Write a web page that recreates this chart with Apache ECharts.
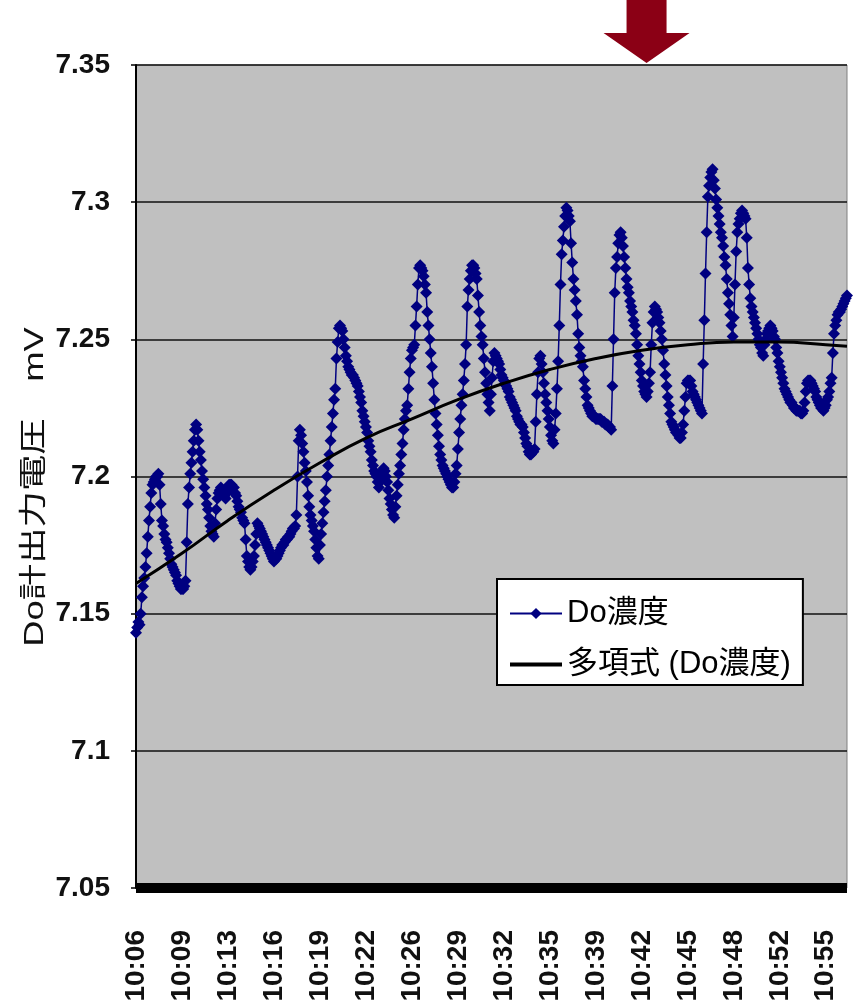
<!DOCTYPE html>
<html>
<head>
<meta charset="utf-8">
<script src="https://cdn.jsdelivr.net/npm/echarts@6/dist/echarts.min.js"></script>
<style>
  html, body { margin: 0; padding: 0; background: #fff; }
  #chart { width: 859px; height: 1008px; }
</style>
</head>
<body>
<div id="chart"></div>
<script>
// sampling: one reading every 5 s starting 10:06:30
const startTime = '10:06:30';
const stepSeconds = 5;

// Do濃度 readings (mV), one row per 39 samples
const doValues = [
  7.143, 7.145, 7.147, 7.146, 7.150, 7.156, 7.160, 7.163, 7.167, 7.172, 7.178, 7.184, 7.189, 7.194, 7.197, 7.198, 7.199, 7.200, 7.200, 7.201, 7.197, 7.190, 7.184, 7.182, 7.179, 7.177, 7.176, 7.174, 7.172, 7.170, 7.168, 7.167, 7.166, 7.165, 7.164, 7.162, 7.161, 7.160, 7.159,
  7.159, 7.159, 7.160, 7.162, 7.176, 7.190, 7.196, 7.201, 7.205, 7.209, 7.213, 7.217, 7.219, 7.217, 7.213, 7.209, 7.206, 7.202, 7.199, 7.196, 7.193, 7.190, 7.188, 7.185, 7.182, 7.180, 7.179, 7.178, 7.183, 7.188, 7.192, 7.194, 7.195, 7.196, 7.195, 7.194, 7.193, 7.192, 7.194,
  7.196, 7.197, 7.197, 7.197, 7.196, 7.196, 7.194, 7.193, 7.191, 7.189, 7.188, 7.187, 7.185, 7.184, 7.183, 7.177, 7.171, 7.169, 7.167, 7.166, 7.167, 7.169, 7.171, 7.175, 7.179, 7.183, 7.182, 7.181, 7.180, 7.179, 7.178, 7.177, 7.176, 7.175, 7.174, 7.173, 7.172, 7.171, 7.170,
  7.169, 7.170, 7.170, 7.171, 7.172, 7.173, 7.174, 7.175, 7.175, 7.176, 7.177, 7.177, 7.178, 7.178, 7.179, 7.180, 7.181, 7.181, 7.182, 7.186, 7.200, 7.213, 7.217, 7.215, 7.212, 7.209, 7.205, 7.202, 7.198, 7.193, 7.189, 7.186, 7.184, 7.182, 7.180, 7.177, 7.174, 7.171, 7.170,
  7.175, 7.179, 7.183, 7.187, 7.191, 7.195, 7.200, 7.204, 7.208, 7.213, 7.218, 7.223, 7.228, 7.232, 7.243, 7.249, 7.254, 7.255, 7.254, 7.253, 7.250, 7.247, 7.244, 7.242, 7.240, 7.239, 7.238, 7.237, 7.237, 7.236, 7.235, 7.234, 7.233, 7.231, 7.229, 7.227, 7.224, 7.222, 7.220,
  7.218, 7.216, 7.213, 7.211, 7.209, 7.206, 7.204, 7.202, 7.201, 7.200, 7.198, 7.196, 7.198, 7.200, 7.202, 7.203, 7.202, 7.200, 7.198, 7.195, 7.192, 7.190, 7.188, 7.186, 7.185, 7.189, 7.193, 7.197, 7.201, 7.204, 7.208, 7.212, 7.217, 7.221, 7.224, 7.226, 7.232, 7.238, 7.243,
  7.246, 7.247, 7.248, 7.255, 7.262, 7.270, 7.276, 7.277, 7.276, 7.275, 7.273, 7.270, 7.267, 7.260, 7.255, 7.250, 7.245, 7.240, 7.234, 7.228, 7.223, 7.219, 7.215, 7.211, 7.208, 7.206, 7.204, 7.203, 7.202, 7.201, 7.200, 7.199, 7.198, 7.197, 7.196, 7.196, 7.198, 7.201, 7.204,
  7.210, 7.216, 7.221, 7.226, 7.230, 7.235, 7.241, 7.248, 7.262, 7.268, 7.272, 7.275, 7.277, 7.277, 7.276, 7.274, 7.272, 7.266, 7.260, 7.255, 7.251, 7.248, 7.243, 7.238, 7.234, 7.230, 7.227, 7.224, 7.230, 7.236, 7.242, 7.245, 7.244, 7.243, 7.242, 7.241, 7.239, 7.237, 7.236,
  7.235, 7.234, 7.233, 7.232, 7.231, 7.229, 7.228, 7.227, 7.226, 7.225, 7.224, 7.222, 7.221, 7.220, 7.219, 7.219, 7.218, 7.216, 7.214, 7.212, 7.211, 7.209, 7.208, 7.208, 7.209, 7.209, 7.210, 7.220, 7.230, 7.238, 7.243, 7.244, 7.241, 7.238, 7.234, 7.230, 7.227, 7.224, 7.221,
  7.218, 7.215, 7.213, 7.212, 7.217, 7.223, 7.232, 7.242, 7.255, 7.270, 7.281, 7.286, 7.291, 7.295, 7.298, 7.297, 7.295, 7.293, 7.285, 7.278, 7.272, 7.268, 7.264, 7.259, 7.252, 7.247, 7.244, 7.242, 7.240, 7.235, 7.232, 7.229, 7.226, 7.225, 7.224, 7.223, 7.222, 7.222, 7.222,
  7.221, 7.221, 7.221, 7.221, 7.221, 7.220, 7.220, 7.220, 7.219, 7.219, 7.219, 7.218, 7.218, 7.217, 7.233, 7.250, 7.267, 7.276, 7.280, 7.285, 7.288, 7.289, 7.287, 7.284, 7.280, 7.276, 7.272, 7.269, 7.267, 7.264, 7.262, 7.260, 7.257, 7.255, 7.252, 7.248, 7.244, 7.241, 7.238,
  7.235, 7.233, 7.231, 7.230, 7.229, 7.231, 7.234, 7.238, 7.248, 7.256, 7.260, 7.262, 7.261, 7.260, 7.258, 7.256, 7.253, 7.250, 7.246, 7.241, 7.237, 7.233, 7.229, 7.226, 7.223, 7.220, 7.219, 7.218, 7.217, 7.216, 7.216, 7.215, 7.214, 7.214, 7.216, 7.219, 7.224, 7.229, 7.234,
  7.235, 7.235, 7.235, 7.233, 7.231, 7.230, 7.229, 7.228, 7.227, 7.226, 7.225, 7.224, 7.223, 7.241, 7.257, 7.274, 7.289, 7.302, 7.306, 7.309, 7.311, 7.312, 7.308, 7.305, 7.301, 7.298, 7.295, 7.292, 7.289, 7.287, 7.284, 7.280, 7.277, 7.272, 7.267, 7.263, 7.259, 7.255, 7.251,
  7.258, 7.270, 7.282, 7.289, 7.292, 7.294, 7.296, 7.297, 7.296, 7.295, 7.294, 7.287, 7.276, 7.270, 7.265, 7.262, 7.260, 7.258, 7.256, 7.254, 7.252, 7.250, 7.248, 7.247, 7.245, 7.244, 7.248, 7.250, 7.252, 7.253, 7.254, 7.255, 7.254, 7.253, 7.251, 7.250, 7.247, 7.245, 7.242,
  7.240, 7.238, 7.236, 7.234, 7.232, 7.231, 7.230, 7.229, 7.228, 7.227, 7.227, 7.226, 7.225, 7.225, 7.224, 7.224, 7.224, 7.224, 7.223, 7.223, 7.224, 7.227, 7.231, 7.234, 7.235, 7.235, 7.235, 7.234, 7.233, 7.232, 7.231, 7.229, 7.228, 7.227, 7.226, 7.225, 7.225, 7.224, 7.225,
  7.226, 7.228, 7.229, 7.231, 7.234, 7.236, 7.245, 7.252, 7.255, 7.257, 7.259, 7.260, 7.260, 7.261, 7.262, 7.263, 7.264, 7.265, 7.266
];

// polynomial trend (多項式) read at the labelled samples
const trendIndex = [0, 39, 78, 117, 156, 195, 234, 273, 312, 351, 390, 429, 468, 507, 546, 585, 603];
const trendValues = [7.161, 7.172, 7.184, 7.195, 7.205, 7.214, 7.221, 7.228, 7.234, 7.239, 7.243, 7.246, 7.248, 7.249, 7.249, 7.248, 7.2475];

// y axis
const yMin = 7.05;
const yMax = 7.35;
const yStep = 0.05;
const yTitle = 'Do計出力電圧　mV';

// sample the red arrow points at (about 10:42:35)
const arrowIndex = 433;

const labelEvery = 39;

function pad(n) { return (n < 10 ? '0' : '') + n; }

const categories = [];
(function () {
  const p = startTime.split(':').map(Number);
  let t = p[0] * 3600 + p[1] * 60 + p[2];
  for (let i = 0; i < doValues.length; i++) {
    const h = Math.floor(t / 3600), m = Math.floor((t % 3600) / 60), s = t % 60;
    categories.push(h + ':' + pad(m) + ':' + pad(s));
    t += stepSeconds;
  }
})();

const FONT = "'Liberation Sans', 'Noto Sans CJK JP', sans-serif";
const gridTop = 65;

const chart = echarts.init(document.getElementById('chart'), null, { renderer: 'canvas' });

chart.setOption({
  animation: false,
  backgroundColor: '#ffffff',
  textStyle: { fontFamily: FONT },
  grid: {
    left: 136,
    right: 12,
    top: gridTop,
    bottom: 120,
    show: true,
    backgroundColor: '#c0c0c0',
    borderColor: '#808080',
    borderWidth: 1
  },
  legend: {
    orient: 'vertical',
    left: 497,
    top: 579,
    backgroundColor: '#ffffff',
    borderColor: '#000000',
    borderWidth: 2,
    borderRadius: 0,
    padding: [19, 12, 5, 11],
    itemWidth: 52,
    itemHeight: 14,
    itemGap: 20,
    textStyle: { fontSize: 31, color: '#000', fontFamily: FONT },
    data: [
      { name: 'Do濃度' },
      { name: '多項式 (Do濃度)', itemStyle: { opacity: 0 }, lineStyle: { width: 4, color: '#000' } }
    ]
  },
  xAxis: {
    type: 'category',
    data: categories,
    boundaryGap: false,
    axisLine: { show: true, lineStyle: { color: '#000', width: 10, cap: 'butt' } },
    axisTick: { show: false },
    splitLine: { show: false },
    axisLabel: {
      interval: labelEvery - 1,
      rotate: 90,
      margin: 42,
      fontSize: 28,
      fontWeight: 'bold',
      color: '#111',
      fontFamily: FONT,
      formatter: function (v) { return v.slice(0, v.length - 3); }
    }
  },
  yAxis: {
    type: 'value',
    min: yMin,
    max: yMax,
    interval: yStep,
    axisLine: { show: true, lineStyle: { color: '#000', width: 2 } },
    axisTick: { show: true, length: 5, lineStyle: { color: '#000', width: 1.5 } },
    splitLine: { show: true, lineStyle: { color: '#111', width: 1.5 } },
    axisLabel: {
      margin: 26,
      fontSize: 28,
      fontWeight: 'bold',
      color: '#111',
      fontFamily: FONT,
      formatter: function (v) { return String(+v.toFixed(2)); }
    }
  },
  series: [
    {
      name: 'Do濃度',
      type: 'line',
      data: doValues,
      showAllSymbol: true,
      symbol: 'diamond',
      symbolSize: 12,
      sampling: null,
      lineStyle: { color: '#000080', width: 1.5 },
      itemStyle: { color: '#000080' },
      z: 3
    },
    {
      name: '多項式 (Do濃度)',
      type: 'line',
      data: trendIndex.map(function (idx, k) { return [idx, trendValues[k]]; }),
      smooth: true,
      symbol: 'none',
      lineStyle: { color: '#000', width: 3 },
      itemStyle: { color: '#000' },
      z: 4
    }
  ]
});

// axis title, white frame behind the legend box and the red arrow above the plot
const ax = chart.convertToPixel({ xAxisIndex: 0 }, arrowIndex);
chart.setOption({
  graphic: [
    {
      type: 'text',
      x: 35,
      y: 487,
      rotation: Math.PI / 2,
      scaleX: 1.3,
      style: {
        text: yTitle,
        fontSize: 28,
        fontFamily: FONT,
        fill: '#111',
        align: 'center',
        verticalAlign: 'middle'
      },
      silent: true
    },
    {
      type: 'rect',
      z: -1,
      shape: { x: 488, y: 565, width: 320, height: 133 },
      style: { fill: '#ffffff' },
      silent: true
    },
    {
      type: 'polygon',
      shape: {
        points: [
          [ax - 20, 0], [ax + 20, 0], [ax + 20, gridTop - 32],
          [ax + 43, gridTop - 32], [ax, gridTop - 2], [ax - 43, gridTop - 32],
          [ax - 20, gridTop - 32]
        ]
      },
      style: { fill: '#8b0015' },
      silent: true
    }
  ]
});
</script>
</body>
</html>
